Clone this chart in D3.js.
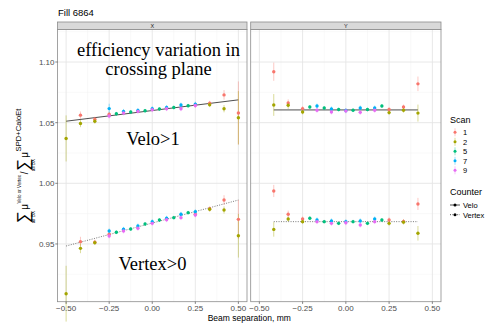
<!DOCTYPE html>
<html>
<head>
<meta charset="utf-8">
<script src="https://cdn.jsdelivr.net/npm/d3@7"></script>
<style>
  body { margin: 0; background: #fff; }
  text { font-family: "Liberation Sans", Arial, sans-serif; }
</style>
</head>
<body>
<div id="chart"></div>
<script>
const width = 491, height = 323;

// scans and colours (ggplot hue palette)
const scans = ["1", "2", "5", "7", "9"];
const scanColors = ["#F8766D", "#A3A500", "#00BF7D", "#00B0F6", "#E76BF3"];
const counters = ["Velo", "Vertex"];
const planes = ["X", "Y"];

// beam separation steps for each group of scans
const posX12 = [-0.5, -0.4167, -0.3333, -0.25, 0.25, 0.3333, 0.4167, 0.5];
const posY12 = [-0.4167, -0.3333, -0.25, 0.25, 0.3333, 0.4167];
const posX79 = [-0.25, -0.1667, -0.0833, 0, 0.0833, 0.1667, 0.25];
const posY79 = [-0.1667, -0.0833, 0, 0.0833, 0.1667];
const pos5 = [-0.2083, -0.125, -0.0417, 0.0417, 0.125, 0.2083];

// [ratio, error] per point, null = no point
const veloX1 = [null, [1.0562, .003], [1.0529, .002], [1.0570, .002], [1.0645, .002], [1.0660, .002], [1.0729, .004], [1.0580, .026]];
const veloX2 = [[1.0370, .019], [1.0493, .003], [1.0512, .002], null, null, [1.0648, .002], [1.0615, .003], [1.0540, .022]];
const veloX5 = [[1.0574, .0015], [1.0588, .0015], [1.0598, .0015], [1.0612, .0015], [1.0625, .0015], [1.0640, .0015]];
const veloX7 = [[1.0616, .004], [1.0593, .002], [1.0601, .002], [1.0615, .002], [1.0625, .002], [1.0645, .002], [1.0653, .002]];
const veloX9 = [[1.0555, .002], [1.0580, .002], [1.0593, .002], [1.0606, .002], [1.0615, .002], [1.0615, .002], [1.0641, .002]];

const vertexX1 = [null, [0.9519, .004], [0.9515, .002], [0.9580, .002], [0.9745, .002], [0.9790, .002], [0.9862, .004], [0.9703, .016]];
const vertexX2 = [[0.9090, .023], [0.9464, .004], [0.9511, .002], null, null, [0.9786, .002], [0.9780, .003], [0.9568, .018]];
const vertexX5 = [[0.9596, .0015], [0.9623, .0015], [0.9665, .0015], [0.9698, .0015], [0.9717, .0015], [0.9758, .0015]];
const vertexX7 = [[0.9607, .002], [0.9621, .002], [0.9648, .002], [0.9684, .002], [0.9712, .002], [0.9745, .002], [0.9766, .002]];
const vertexX9 = [[0.9566, .002], [0.9607, .002], [0.9629, .002], [0.9670, .002], [0.9700, .002], [0.9717, .002], [0.9739, .002]];

const veloY1 = [[1.0920, .0075], [1.0662, .003], [1.0616, .002], [1.0608, .002], [1.0629, .002], [1.0820, .006]];
const veloY2 = [[1.0646, .009], [1.0643, .003], [1.0588, .002], [1.0583, .002], [1.0602, .002], [1.0579, .007]];
const veloY5 = [[1.0629, .0015], [1.0621, .0015], [1.0608, .0015], [1.0602, .0015], [1.0608, .0015], [1.0637, .0015]];
const veloY7 = [[1.0637, .002], [1.0613, .002], [1.0600, .002], [1.0621, .002], [1.0621, .002]];
const veloY9 = [[1.0602, .002], [1.0588, .002], [1.0597, .002], [1.0585, .002], [1.0602, .002]];

const vertexY1 = [[0.9937, .005], [0.9745, .003], [0.9706, .002], [0.9698, .002], [0.9685, .002], [0.9830, .005]];
const vertexY2 = [[0.9620, .006], [0.9706, .002], [0.9684, .002], [0.9670, .002], [0.9680, .002], [0.9588, .006]];
const vertexY5 = [[0.9712, .0015], [0.9684, .0015], [0.9670, .0015], [0.9684, .0015], [0.9670, .0015], [0.9698, .0015]];
const vertexY7 = [[0.9698, .002], [0.9690, .002], [0.9684, .002], [0.9690, .002], [0.9706, .002]];
const vertexY9 = [[0.9684, .002], [0.9670, .002], [0.9675, .002], [0.9656, .002], [0.9684, .002]];

// fitted lines, end points
const fitXRange = [-0.5, 0.5];
const fitYRange = [-0.4167, 0.4167];
const fitVeloX = [1.0512, 1.0688];
const fitVertexX = [0.9483, 0.9862];
const fitVeloY = [1.0605, 1.0605];
const fitVertexY = [0.9684, 0.9684];

const xTicks = [-0.5, -0.25, 0, 0.25, 0.5];
const yTicks = [0.95, 1.00, 1.05, 1.10];

// put the points together
function rows(plane, counter, scanIdx, pos, vals) {
    return vals.map((v, i) => v ? {plane, counter, scan: scans[scanIdx], x: pos[i], y: v[0], err: v[1]} : null)
        .filter(d => d);
}
const points = [].concat(
    rows("X", "Velo", 0, posX12, veloX1), rows("X", "Velo", 1, posX12, veloX2),
    rows("X", "Velo", 2, pos5, veloX5), rows("X", "Velo", 3, posX79, veloX7), rows("X", "Velo", 4, posX79, veloX9),
    rows("X", "Vertex", 0, posX12, vertexX1), rows("X", "Vertex", 1, posX12, vertexX2),
    rows("X", "Vertex", 2, pos5, vertexX5), rows("X", "Vertex", 3, posX79, vertexX7), rows("X", "Vertex", 4, posX79, vertexX9),
    rows("Y", "Velo", 0, posY12, veloY1), rows("Y", "Velo", 1, posY12, veloY2),
    rows("Y", "Velo", 2, pos5, veloY5), rows("Y", "Velo", 3, posY79, veloY7), rows("Y", "Velo", 4, posY79, veloY9),
    rows("Y", "Vertex", 0, posY12, vertexY1), rows("Y", "Vertex", 1, posY12, vertexY2),
    rows("Y", "Vertex", 2, pos5, vertexY5), rows("Y", "Vertex", 3, posY79, vertexY7), rows("Y", "Vertex", 4, posY79, vertexY9)
);
const fits = [
    {plane: "X", counter: "Velo", xs: fitXRange, ys: fitVeloX},
    {plane: "X", counter: "Vertex", xs: fitXRange, ys: fitVertexX},
    {plane: "Y", counter: "Velo", xs: fitYRange, ys: fitVeloY},
    {plane: "Y", counter: "Vertex", xs: fitYRange, ys: fitVertexY}
];

const color = d3.scaleOrdinal().domain(scans).range(scanColors);

const svg = d3.select("#chart").append("svg")
    .attr("width", width)
    .attr("height", height);

const panelTop = 29.5, panelBottom = 301.7, stripTop = 22;
const panels = {X: [57.5, 247], Y: [250.7, 441]};

const y = d3.scaleLinear().domain([0.9024, 1.1268]).range([panelBottom, panelTop]);
const fmt = d => d3.format(".2f")(d).replace("-", "\u2212");

planes.forEach(function(pl) {
    const [x0, x1] = panels[pl];
    const x = d3.scaleLinear().domain([-0.55, 0.55]).range([x0, x1]);
    const g = svg.append("g");

    // grid
    g.append("rect").attr("x", x0).attr("y", panelTop)
        .attr("width", x1 - x0).attr("height", panelBottom - panelTop).attr("fill", "#fff");
    [-0.375, -0.125, 0.125, 0.375].forEach(t => g.append("line")
        .attr("x1", x(t)).attr("x2", x(t)).attr("y1", panelTop).attr("y2", panelBottom)
        .attr("stroke", "#f2f2f2").attr("stroke-width", 0.5));
    [0.925, 0.975, 1.025, 1.075, 1.125].forEach(t => g.append("line")
        .attr("x1", x0).attr("x2", x1).attr("y1", y(t)).attr("y2", y(t))
        .attr("stroke", "#f2f2f2").attr("stroke-width", 0.5));
    xTicks.forEach(t => g.append("line")
        .attr("x1", x(t)).attr("x2", x(t)).attr("y1", panelTop).attr("y2", panelBottom)
        .attr("stroke", "#e5e5e5").attr("stroke-width", 0.9));
    yTicks.forEach(t => g.append("line")
        .attr("x1", x0).attr("x2", x1).attr("y1", y(t)).attr("y2", y(t))
        .attr("stroke", "#e5e5e5").attr("stroke-width", 0.9));

    // fits
    fits.filter(f => f.plane === pl).forEach(f => g.append("line")
        .attr("x1", x(f.xs[0])).attr("x2", x(f.xs[1]))
        .attr("y1", y(f.ys[0])).attr("y2", y(f.ys[1]))
        .attr("stroke", f.counter === "Velo" ? "#222" : "#555")
        .attr("stroke-width", 0.8)
        .attr("stroke-dasharray", f.counter === "Velo" ? null : "1,1.4"));

    // error bars + points
    const pts = points.filter(d => d.plane === pl);
    g.selectAll(".err").data(pts).enter().append("line")
        .attr("x1", d => x(d.x)).attr("x2", d => x(d.x))
        .attr("y1", d => y(d.y - d.err)).attr("y2", d => y(d.y + d.err))
        .attr("stroke", d => color(d.scan)).attr("stroke-opacity", 0.45).attr("stroke-width", 0.9);
    g.selectAll(".pt").data(pts).enter().append("circle")
        .attr("cx", d => x(d.x)).attr("cy", d => y(d.y)).attr("r", 1.7)
        .attr("fill", d => color(d.scan));

    // border
    g.append("rect").attr("x", x0).attr("y", panelTop)
        .attr("width", x1 - x0).attr("height", panelBottom - panelTop)
        .attr("fill", "none").attr("stroke", "#8c8c8c").attr("stroke-width", 0.8);

    // strip
    g.append("rect").attr("x", x0).attr("y", stripTop)
        .attr("width", x1 - x0).attr("height", panelTop - stripTop)
        .attr("fill", "#d9d9d9").attr("stroke", "#8c8c8c").attr("stroke-width", 0.8);
    g.append("text").attr("x", (x0 + x1) / 2).attr("y", panelTop - 2)
        .attr("text-anchor", "middle").attr("font-size", 5.5).attr("fill", "#1a1a1a").text(pl);

    // x axis
    xTicks.forEach(t => {
        g.append("line").attr("x1", x(t)).attr("x2", x(t))
            .attr("y1", panelBottom).attr("y2", panelBottom + 2.2).attr("stroke", "#333").attr("stroke-width", 0.6);
        g.append("text").attr("x", x(t)).attr("y", 311)
            .attr("text-anchor", "middle").attr("font-size", 8).attr("fill", "#4d4d4d").text(fmt(t));
    });
});

// y axis on the left panel
yTicks.forEach(t => {
    svg.append("line").attr("x1", panels.X[0] - 2.2).attr("x2", panels.X[0])
        .attr("y1", y(t)).attr("y2", y(t)).attr("stroke", "#333").attr("stroke-width", 0.6);
    svg.append("text").attr("x", panels.X[0] - 3).attr("y", y(t) + 2.9)
        .attr("text-anchor", "end").attr("font-size", 8).attr("fill", "#4d4d4d").text(fmt(t));
});

// title and axis titles
svg.append("text").attr("x", 58).attr("y", 15.5).attr("font-size", 9.5).attr("fill", "#000").text("Fill 6864");
svg.append("text").attr("x", (panels.X[0] + panels.Y[1]) / 2).attr("y", 320.5)
    .attr("text-anchor", "middle").attr("font-size", 8.5).attr("fill", "#000").text("Beam separation, mm");

// y label: sum mu^(Velo or Vertex) / sum mu^(SPD+CaloEt)
const ylab = svg.append("g");
const pieces = [
    {t: "\u2211", size: 17, dy: 1, sub: "all BX"},
    {t: "\u03bc", size: 10, dy: 0, gap: 0.8},
    {t: "Velo or Vertex", size: 4.6, dy: -7},
    {t: " / ", size: 10, dy: 0},
    {t: "\u2211", size: 17, dy: 1, sub: "all BX"},
    {t: "\u03bc", size: 10, dy: 0, gap: 0.8},
    {t: "SPD+CaloEt", size: 7.6, dy: -7}
];
let cur = 0;
pieces.forEach(p => {
    const t = ylab.append("text").attr("x", cur + (p.gap || 0)).attr("y", p.dy)
        .attr("font-size", p.size).attr("fill", "#000").text(p.t);
    const w = t.node().getComputedTextLength();
    if (p.sub) {
        ylab.append("text").attr("x", cur + w / 2).attr("y", 6.5)
            .attr("text-anchor", "middle").attr("font-size", 4.8).attr("fill", "#000").text(p.sub);
    }
    cur += w + (p.gap || 0) + 0.5;
});
const yc = (panelTop + panelBottom) / 2;
ylab.attr("transform", `translate(28,${yc + cur / 2}) rotate(-90)`);

// annotations
const ann = [
    {t: "efficiency variation in", x: 158.5, y: 56},
    {t: "crossing plane", x: 158.5, y: 75},
    {t: "Velo>1", x: 153, y: 144.5},
    {t: "Vertex>0", x: 152.5, y: 270}
];
svg.selectAll(".ann").data(ann).enter().append("text")
    .attr("x", d => d.x).attr("y", d => d.y)
    .attr("text-anchor", "middle")
    .style("font-family", "'Liberation Serif', 'Times New Roman', serif")
    .attr("font-size", 18.5).attr("fill", "#000").text(d => d.t);

// legend
const leg = svg.append("g");
leg.append("text").attr("x", 450).attr("y", 123).attr("font-size", 9).attr("fill", "#000").text("Scan");
scans.forEach((s, i) => {
    const cy = 132.3 + i * 9.5;
    leg.append("line").attr("x1", 455).attr("x2", 455).attr("y1", cy - 4).attr("y2", cy + 4)
        .attr("stroke", color(s)).attr("stroke-opacity", 0.45).attr("stroke-width", 0.9);
    leg.append("circle").attr("cx", 455).attr("cy", cy).attr("r", 1.5).attr("fill", color(s));
    leg.append("text").attr("x", 463).attr("y", cy + 2.8).attr("font-size", 7.5).attr("fill", "#000").text(s);
});
leg.append("text").attr("x", 450).attr("y", 195).attr("font-size", 9).attr("fill", "#000").text("Counter");
counters.forEach((c, i) => {
    const cy = 205 + i * 9.7;
    leg.append("line").attr("x1", 450).attr("x2", 460).attr("y1", cy).attr("y2", cy)
        .attr("stroke", "#222").attr("stroke-width", 0.8)
        .attr("stroke-dasharray", c === "Velo" ? null : "1,1.4");
    leg.append("circle").attr("cx", 455).attr("cy", cy).attr("r", 1.5).attr("fill", "#000");
    leg.append("text").attr("x", 463).attr("y", cy + 2.8).attr("font-size", 7.5).attr("fill", "#000").text(c);
});
</script>
</body>
</html>
